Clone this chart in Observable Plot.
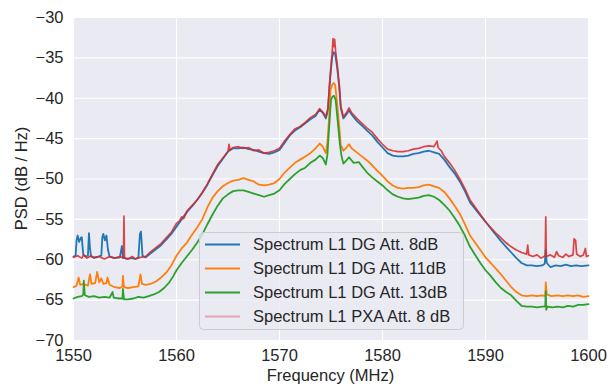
<!DOCTYPE html>
<html><head><meta charset="utf-8">
<script src="https://cdn.jsdelivr.net/npm/d3@7"></script>
<script src="https://cdn.jsdelivr.net/npm/@observablehq/plot@0.6"></script>
<style>body{margin:0;background:#fff;}</style>
</head><body><div id="chart"></div>
<script>
const xTicks = [1550, 1560, 1570, 1580, 1590, 1600];
const yTicks = [-70, -65, -60, -55, -50, -45, -40, -35, -30];
const seriesNames = ["Spectrum L1 DG Att. 8dB", "Spectrum L1 DG Att. 11dB", "Spectrum L1 DG Att. 13dB", "Spectrum L1 PXA Att. 8 dB"];
const seriesColors = ["#1f77b4", "#ff7f0e", "#2ca02c", "#d62728"];

// [frequency MHz, PSD dB/Hz]
const dg8 = [[1550.0,-59.6],[1550.2,-59.5],[1550.3,-57.6],[1550.4,-57.0],[1550.55,-57.8],[1550.7,-57.3],[1550.8,-57.2],[1550.95,-59.4],[1551.2,-59.6],[1551.4,-59.5],[1551.5,-56.7],[1551.6,-58.5],[1551.7,-59.6],[1552.0,-59.7],[1552.4,-59.6],[1552.7,-59.5],[1552.8,-57.2],[1552.9,-56.8],[1553.05,-57.6],[1553.2,-57.0],[1553.35,-58.8],[1553.5,-59.6],[1554.0,-59.8],[1554.5,-59.7],[1554.7,-58.3],[1554.8,-59.7],[1555.2,-59.9],[1555.6,-59.8],[1556.0,-59.9],[1556.3,-59.7],[1556.45,-56.8],[1556.55,-56.5],[1556.7,-59.5],[1557.0,-59.7],[1557.5,-59.2],[1558.0,-58.7],[1558.5,-58.2],[1559.0,-57.5],[1559.5,-56.8],[1560.0,-55.9],[1560.5,-55.0],[1561.0,-54.1],[1561.5,-53.4],[1562.0,-52.6],[1562.5,-51.7],[1563.0,-50.7],[1563.5,-49.5],[1564.0,-48.4],[1564.5,-47.5],[1565.0,-46.6],[1565.5,-46.2],[1566.0,-46.2],[1566.5,-46.1],[1567.0,-46.3],[1567.5,-46.4],[1568.0,-46.6],[1568.5,-46.8],[1569.0,-46.9],[1569.5,-46.7],[1570.0,-46.4],[1570.5,-45.5],[1571.0,-44.6],[1571.5,-44.0],[1572.0,-43.6],[1572.5,-43.1],[1573.0,-42.6],[1573.5,-42.2],[1573.9,-41.4],[1574.2,-41.8],[1574.5,-42.5],[1574.7,-41.5],[1574.9,-37.8],[1575.1,-35.0],[1575.25,-34.3],[1575.4,-34.5],[1575.6,-36.2],[1575.8,-38.6],[1575.95,-41.2],[1576.2,-42.5],[1576.5,-42.0],[1576.75,-41.5],[1577.0,-42.0],[1577.5,-42.8],[1578.0,-43.4],[1578.5,-44.0],[1579.0,-44.6],[1579.5,-45.4],[1580.0,-46.1],[1580.5,-46.8],[1581.0,-47.1],[1581.5,-47.2],[1582.0,-47.2],[1582.5,-47.1],[1583.0,-46.9],[1583.5,-46.8],[1584.0,-46.6],[1584.5,-46.5],[1585.0,-46.7],[1585.5,-46.9],[1586.0,-47.6],[1586.5,-48.5],[1587.0,-49.3],[1587.5,-50.3],[1588.0,-51.5],[1588.5,-52.9],[1589.0,-53.7],[1589.5,-54.5],[1590.0,-55.3],[1590.5,-56.1],[1591.0,-56.9],[1591.5,-57.7],[1592.0,-58.4],[1592.5,-59.1],[1593.0,-59.8],[1593.5,-60.4],[1594.0,-60.7],[1594.5,-60.7],[1595.0,-60.8],[1595.5,-60.7],[1595.75,-60.5],[1595.85,-58.8],[1595.95,-60.4],[1596.3,-60.9],[1596.8,-60.7],[1597.3,-60.8],[1597.8,-60.6],[1598.3,-60.8],[1598.8,-60.7],[1599.3,-60.8],[1600.0,-60.7]];

const dg11 = [[1550.0,-63.4],[1550.3,-63.2],[1550.5,-62.2],[1550.65,-63.1],[1551.0,-63.0],[1551.4,-63.2],[1551.6,-61.8],[1551.75,-63.0],[1552.1,-62.9],[1552.3,-61.5],[1552.5,-62.8],[1552.7,-62.3],[1552.9,-63.0],[1553.2,-62.9],[1553.3,-62.2],[1553.5,-63.1],[1554.0,-63.4],[1554.5,-63.5],[1554.75,-63.3],[1554.8,-62.0],[1554.9,-63.4],[1555.3,-63.5],[1555.8,-63.4],[1556.3,-63.3],[1556.5,-61.8],[1556.65,-63.0],[1557.0,-63.1],[1557.5,-63.0],[1558.0,-62.7],[1558.5,-62.2],[1559.0,-61.6],[1559.5,-60.7],[1560.0,-59.5],[1560.5,-58.6],[1561.0,-57.9],[1561.5,-56.9],[1562.0,-56.0],[1562.5,-55.0],[1563.0,-53.5],[1563.5,-52.3],[1564.0,-51.5],[1564.5,-50.9],[1565.0,-50.5],[1565.5,-50.2],[1566.0,-50.1],[1566.5,-49.9],[1567.0,-50.1],[1567.5,-50.3],[1568.0,-50.7],[1568.5,-50.8],[1569.0,-50.7],[1569.5,-50.5],[1570.0,-50.0],[1570.5,-49.2],[1571.0,-48.6],[1571.5,-48.0],[1572.0,-47.6],[1572.5,-47.2],[1573.0,-46.8],[1573.5,-46.2],[1573.9,-45.6],[1574.2,-46.0],[1574.5,-46.8],[1574.65,-45.5],[1574.8,-42.8],[1574.95,-39.0],[1575.1,-38.4],[1575.25,-38.1],[1575.4,-38.3],[1575.6,-40.7],[1575.8,-43.5],[1575.95,-45.8],[1576.2,-46.5],[1576.5,-46.1],[1576.75,-45.7],[1577.0,-46.2],[1577.5,-46.7],[1578.0,-47.2],[1578.5,-47.7],[1579.0,-48.3],[1579.5,-49.0],[1580.0,-49.6],[1580.5,-50.3],[1581.0,-50.8],[1581.5,-51.1],[1582.0,-51.2],[1582.5,-51.1],[1583.0,-51.1],[1583.5,-51.0],[1584.0,-50.8],[1584.5,-50.7],[1585.0,-50.9],[1585.5,-51.1],[1586.0,-51.6],[1586.5,-52.4],[1587.0,-53.3],[1587.5,-54.3],[1588.0,-55.6],[1588.5,-57.0],[1589.0,-57.9],[1589.5,-58.8],[1590.0,-59.7],[1590.5,-60.4],[1591.0,-61.1],[1591.5,-61.8],[1592.0,-62.6],[1592.5,-63.4],[1593.0,-64.0],[1593.5,-64.4],[1594.0,-64.5],[1594.5,-64.4],[1595.0,-64.5],[1595.5,-64.4],[1595.8,-64.5],[1595.85,-62.8],[1595.95,-64.3],[1596.4,-64.5],[1597.0,-64.4],[1597.5,-64.5],[1598.0,-64.4],[1598.5,-64.5],[1599.0,-64.4],[1599.5,-64.6],[1600.0,-64.5]];

const dg13 = [[1550.0,-64.8],[1550.4,-64.6],[1550.8,-64.5],[1550.95,-64.3],[1551.0,-62.6],[1551.1,-64.4],[1551.5,-64.6],[1552.0,-64.5],[1552.5,-64.7],[1553.0,-64.6],[1553.5,-64.7],[1553.8,-64.0],[1553.9,-64.7],[1554.4,-64.8],[1554.75,-64.8],[1554.8,-63.6],[1554.9,-64.9],[1555.3,-64.9],[1555.8,-64.8],[1556.3,-64.6],[1556.8,-64.7],[1557.3,-64.5],[1557.8,-64.3],[1558.3,-64.0],[1558.8,-63.5],[1559.3,-62.8],[1559.7,-62.0],[1560.0,-61.3],[1560.5,-60.4],[1561.0,-59.6],[1561.5,-58.8],[1562.0,-57.9],[1562.5,-56.9],[1563.0,-55.6],[1563.5,-54.4],[1564.0,-53.3],[1564.5,-52.4],[1565.0,-51.9],[1565.5,-51.5],[1566.0,-51.4],[1566.5,-51.4],[1567.0,-51.6],[1567.5,-51.8],[1568.0,-52.0],[1568.5,-52.2],[1569.0,-52.0],[1569.5,-51.8],[1570.0,-51.4],[1570.5,-50.6],[1571.0,-50.0],[1571.5,-49.4],[1572.0,-48.9],[1572.5,-48.6],[1573.0,-48.0],[1573.5,-47.6],[1573.9,-47.1],[1574.2,-47.4],[1574.5,-48.2],[1574.65,-47.0],[1574.8,-44.0],[1575.0,-40.2],[1575.15,-39.8],[1575.3,-39.7],[1575.45,-40.2],[1575.65,-42.8],[1575.85,-45.5],[1576.0,-47.0],[1576.2,-48.1],[1576.5,-47.7],[1576.75,-47.3],[1577.0,-47.7],[1577.2,-48.0],[1577.7,-47.9],[1578.0,-48.4],[1578.5,-49.2],[1579.0,-49.8],[1579.5,-50.3],[1580.0,-50.8],[1580.5,-51.4],[1581.0,-51.9],[1581.5,-52.2],[1582.0,-52.4],[1582.5,-52.5],[1583.0,-52.4],[1583.5,-52.3],[1584.0,-52.1],[1584.5,-52.0],[1585.0,-52.2],[1585.5,-52.6],[1586.0,-53.2],[1586.5,-53.9],[1587.0,-54.8],[1587.5,-55.8],[1588.0,-57.0],[1588.5,-58.4],[1589.0,-59.4],[1589.5,-60.4],[1590.0,-61.3],[1590.5,-62.0],[1591.0,-62.8],[1591.5,-63.5],[1592.0,-64.0],[1592.5,-64.4],[1593.0,-65.1],[1593.5,-65.7],[1594.0,-65.8],[1594.5,-65.8],[1595.0,-65.9],[1595.5,-65.8],[1595.8,-65.8],[1595.85,-63.9],[1595.9,-66.2],[1596.0,-65.8],[1596.5,-65.9],[1597.0,-65.8],[1597.5,-65.9],[1598.0,-65.7],[1598.5,-65.8],[1599.0,-65.6],[1599.5,-65.6],[1600.0,-65.5]];

const pxa8 = [[1550.0,-59.7],[1550.4,-59.5],[1550.8,-59.8],[1551.0,-59.4],[1551.3,-59.8],[1551.7,-59.5],[1552.0,-59.8],[1552.5,-59.6],[1553.0,-59.9],[1553.5,-59.6],[1554.0,-59.8],[1554.5,-59.6],[1554.85,-59.8],[1554.9,-54.6],[1554.95,-59.8],[1555.3,-59.9],[1555.7,-59.6],[1556.0,-59.9],[1556.5,-59.7],[1557.0,-59.6],[1557.5,-59.0],[1558.0,-58.5],[1558.5,-58.0],[1559.0,-57.3],[1559.5,-56.6],[1560.0,-55.5],[1560.3,-55.2],[1560.5,-54.7],[1560.7,-54.9],[1561.0,-54.0],[1561.5,-53.3],[1562.0,-52.6],[1562.5,-51.7],[1563.0,-50.6],[1563.5,-49.4],[1564.0,-48.2],[1564.5,-47.4],[1565.0,-46.6],[1565.1,-45.7],[1565.2,-46.4],[1565.5,-46.1],[1566.0,-46.0],[1566.5,-46.2],[1567.0,-46.1],[1567.5,-46.5],[1568.0,-46.4],[1568.5,-46.8],[1569.0,-46.7],[1569.5,-46.5],[1570.0,-46.2],[1570.5,-45.3],[1571.0,-44.5],[1571.5,-43.8],[1572.0,-43.5],[1572.5,-43.0],[1573.0,-42.4],[1573.5,-42.0],[1573.9,-41.3],[1574.2,-41.7],[1574.5,-42.3],[1574.7,-41.2],[1574.9,-37.5],[1575.1,-34.6],[1575.2,-32.6],[1575.3,-33.6],[1575.35,-32.7],[1575.45,-34.2],[1575.6,-35.8],[1575.8,-38.3],[1575.95,-41.0],[1576.2,-42.3],[1576.5,-41.8],[1576.75,-41.2],[1577.0,-41.8],[1577.5,-42.5],[1578.0,-43.1],[1578.5,-43.7],[1579.0,-44.2],[1579.5,-45.0],[1580.0,-45.7],[1580.5,-46.3],[1581.0,-46.5],[1581.5,-46.6],[1582.0,-46.6],[1582.5,-46.5],[1583.0,-46.3],[1583.5,-46.2],[1584.0,-46.0],[1584.5,-45.9],[1585.0,-46.0],[1585.3,-45.3],[1585.4,-46.1],[1585.7,-46.5],[1586.0,-47.2],[1586.5,-48.0],[1587.0,-48.9],[1587.5,-50.0],[1588.0,-51.2],[1588.5,-52.6],[1589.0,-53.5],[1589.5,-54.4],[1590.0,-55.3],[1590.5,-56.0],[1591.0,-56.7],[1591.5,-57.3],[1592.0,-57.9],[1592.5,-58.4],[1593.0,-58.8],[1593.5,-59.1],[1594.0,-59.3],[1594.1,-58.2],[1594.2,-59.4],[1594.6,-59.6],[1595.0,-59.4],[1595.4,-59.8],[1595.8,-59.5],[1595.85,-54.7],[1595.9,-59.6],[1596.3,-59.4],[1596.7,-59.7],[1596.9,-59.0],[1597.1,-59.5],[1597.5,-59.7],[1597.8,-59.3],[1598.1,-59.6],[1598.5,-59.4],[1598.6,-57.4],[1598.75,-57.6],[1598.85,-59.3],[1599.2,-59.6],[1599.5,-59.4],[1599.7,-58.6],[1599.8,-59.6],[1600.0,-59.5]];

const fmt = d => d < 0 ? "\u2212" + Math.abs(d) : String(d);
const FONT = "'Liberation Sans', Arial, sans-serif";

const plot = Plot.plot({
  width: 613, height: 385,
  marginLeft: 73, marginRight: 25, marginTop: 17, marginBottom: 45,
  style: {fontFamily: FONT, fontSize: "16.5px", color: "#262626", background: "#fff"},
  x: {domain: [1550, 1600]},
  y: {domain: [-70, -30]},
  marks: [
    Plot.frame({fill: "#EAEAF2", stroke: null}),
    Plot.gridX(xTicks, {stroke: "#fff", strokeOpacity: 1, strokeWidth: 1.1}),
    Plot.gridY(yTicks, {stroke: "#fff", strokeOpacity: 1, strokeWidth: 1.1}),
    Plot.axisX(xTicks, {tickSize: 0, tickPadding: 9, label: null, tickFormat: d => String(d), fontSize: 16.5}),
    Plot.axisY(yTicks, {tickSize: 0, tickPadding: 10, label: null, tickFormat: fmt, fontSize: 16.5}),
    Plot.line(dg8, {x: d => d[0], y: d => d[1], stroke: seriesColors[0], strokeWidth: 1.8}),
    Plot.line(dg11, {x: d => d[0], y: d => d[1], stroke: seriesColors[1], strokeWidth: 1.8}),
    Plot.line(dg13, {x: d => d[0], y: d => d[1], stroke: seriesColors[2], strokeWidth: 1.8}),
    Plot.line(pxa8, {x: d => d[0], y: d => d[1], stroke: seriesColors[3], strokeWidth: 1.7, strokeOpacity: 0.85})
  ]
});

const svg = d3.select(plot);
// axis titles
svg.append("text").attr("x", 330.5).attr("y", 381).attr("text-anchor", "middle")
  .attr("font-family", FONT).attr("font-size", 16.5).attr("fill", "#262626").text("Frequency (MHz)");
svg.append("text").attr("transform", "translate(21,178.5) rotate(-90)").attr("text-anchor", "middle")
  .attr("dy", "0.35em").attr("font-family", FONT).attr("font-size", 16.5).attr("fill", "#262626").text("PSD (dB / Hz)");

// legend
const lg = svg.append("g");
lg.append("rect").attr("x", 199.5).attr("y", 232.5).attr("width", 264).attr("height", 97).attr("rx", 4)
  .attr("fill", "rgba(234,234,242,0.8)").attr("stroke", "#cccccc").attr("stroke-width", 1);
seriesNames.forEach((name, i) => {
  const cy = 244.5 + i * 24;
  lg.append("line").attr("x1", 205).attr("x2", 240).attr("y1", cy).attr("y2", cy)
    .attr("stroke", seriesColors[i]).attr("stroke-width", 1.8)
    .attr("stroke-opacity", i === 3 ? 0.35 : 1);
  lg.append("text").attr("x", 253).attr("y", cy).attr("dy", "0.35em").attr("text-anchor", "start")
    .attr("font-family", FONT).attr("font-size", 16.5).attr("fill", "#262626").text(name);
});

document.getElementById("chart").appendChild(plot);
</script>
</body></html>
